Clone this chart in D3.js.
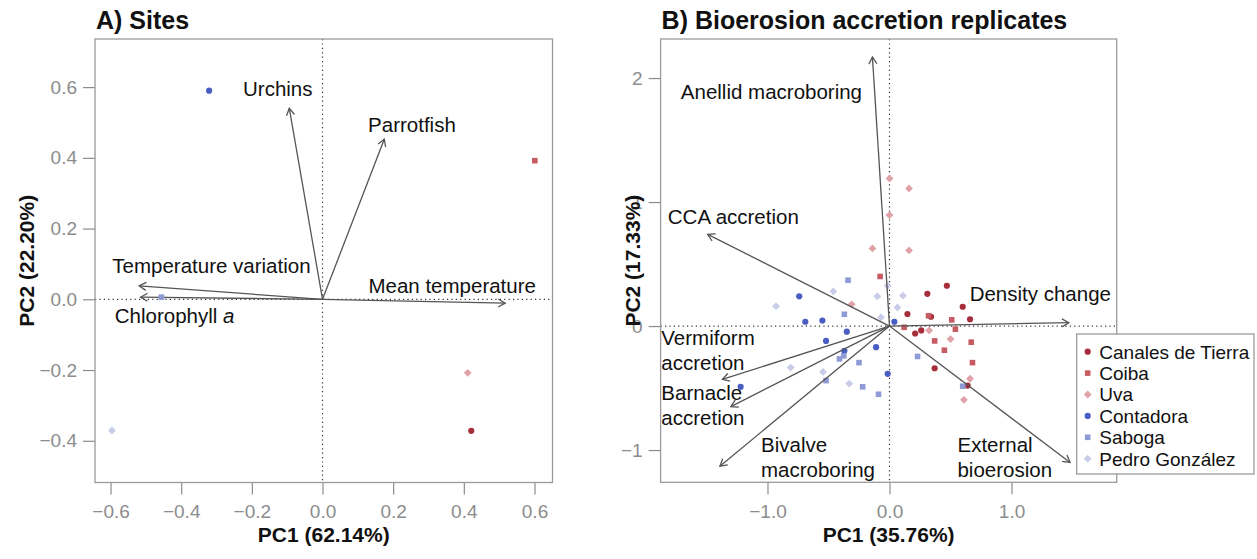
<!DOCTYPE html>
<html><head><meta charset="utf-8">
<script src="https://cdn.jsdelivr.net/npm/d3@7"></script>
<style>
body{margin:0;background:#fff;}
text{font-family:"Liberation Sans",Arial,Helvetica,sans-serif;}
</style>
</head><body>
<svg id="chart" width="1257" height="559"></svg>
<script>
// ---------- DATA ----------
const sites = ["Canales de Tierra","Coiba","Uva","Contadora","Saboga","Pedro González"];
const siteColors = ["#a62d3a","#c75b62","#e0a2a7","#4a5dc2","#8e9ad6","#c8cce8"];
const siteShapes = ["circle","square","diamond","circle","square","diamond"];

// Panel A: site scores
const sitePC1 = [0.421, 0.601, 0.411, -0.321, -0.456, -0.596];
const sitePC2 = [-0.372, 0.392, -0.208, 0.590, 0.006, -0.371];

// Panel A: environmental loadings
const envVars = ["Urchins","Parrotfish","Temperature variation","Chlorophyll a","Mean temperature"];
const envPC1 = [-0.094, 0.175, -0.519, -0.515, 0.517];
const envPC2 = [0.540, 0.453, 0.038, 0.006, -0.011];
const envLabelPC1 = [-0.225, 0.129, -0.595, -0.588, 0.130];
const envLabelPC2 = [0.594, 0.493, 0.093, -0.046, 0.039];

// Panel B: replicate scores per site
const canalesPC1 = [0.47, 0.31, 0.60, 0.147, 0.34, 0.66, 0.26, 0.21, 0.37, 0.64];
const canalesPC2 = [0.325, 0.26, 0.156, 0.097, 0.075, 0.055, -0.035, -0.06, -0.34, -0.48];
const coibaPC1 = [-0.077, 0.32, 0.51, 0.12, 0.54, 0.37, 0.67, 0.45, 0.68];
const coibaPC2 = [0.40, 0.083, 0.05, -0.01, -0.025, -0.12, -0.13, -0.195, -0.295];
const uvaPC1 = [0.0, 0.16, 0.0, -0.14, 0.16, -0.31, 0.325, 0.50, 0.66, 0.61];
const uvaPC2 = [1.19, 1.11, 0.895, 0.626, 0.61, 0.175, -0.035, -0.105, -0.425, -0.595];
const contadoraPC1 = [-0.74, -0.69, -0.55, -0.35, -0.52, -0.37, -0.11, 0.04, -0.015, -1.22];
const contadoraPC2 = [0.24, 0.035, 0.045, -0.045, -0.12, -0.2, -0.17, 0.035, -0.385, -0.49];
const sabogaPC1 = [-0.34, -0.37, -0.41, -0.375, -0.25, -0.52, -0.22, -0.09, 0.23, 0.60];
const sabogaPC2 = [0.37, 0.095, -0.265, -0.24, -0.295, -0.44, -0.49, -0.55, -0.245, -0.485];
const pedroPC1 = [-0.93, -0.46, -0.10, 0.11, 0.065, -0.07, -0.015, -0.81, -0.545, -0.33];
const pedroPC2 = [0.16, 0.28, 0.24, 0.245, 0.15, 0.07, 0.325, -0.335, -0.37, -0.465];

// Panel B: bioerosion/accretion loadings
const bioVars = [["Anellid macroboring"],["CCA accretion"],["Density change"],["Vermiform","accretion"],["Barnacle","accretion"],["Bivalve","macroboring"],["External","bioerosion"]];
const bioPC1 = [-0.14, -1.49, 1.47, -1.37, -1.30, -1.39, 1.48];
const bioPC2 = [2.17, 0.74, 0.027, -0.43, -0.65, -1.13, -1.10];
const bioLabelPC1 = [-1.71, -1.817, 0.657, -1.87, -1.87, -1.053, 0.557];
const bioLabelPC2 = [1.887, 0.879, 0.258, -0.094, -0.538, -0.96, -0.96];

// Tick labels
const aXTicks = [-0.6,-0.4,-0.2,0.0,0.2,0.4,0.6];
const aYTicks = [-0.4,-0.2,0.0,0.2,0.4,0.6];
const bXTicks = [-1.0,0.0,1.0];
const bYTicks = [-1,0,1,2];

// ---------- DRAW ----------
const svg = d3.select("#chart");
const boxColor = "#9a9a9a", tickColor = "#8c8c8c", arrowColor = "#555";

function symbolPath(shape){
  if(shape==="circle") return d3.symbol(d3.symbolCircle, 30)();
  if(shape==="square") return "M-2.8,-2.8H2.8V2.8H-2.8Z";
  return "M0,-3.9L3.9,0L0,3.9L-3.9,0Z";
}

function panel(cfg){
  const g = svg.append("g");
  const x = d3.scaleLinear().domain(cfg.xd).range([cfg.left, cfg.right]);
  const y = d3.scaleLinear().domain(cfg.yd).range([cfg.bottom, cfg.top]);
  // dotted zero lines
  g.append("line").attr("x1",x(0)).attr("x2",x(0)).attr("y1",cfg.top).attr("y2",cfg.bottom)
    .attr("stroke","#333").attr("stroke-width",1.2).attr("stroke-dasharray","1.2,3.2");
  g.append("line").attr("y1",y(0)).attr("y2",y(0)).attr("x1",cfg.left).attr("x2",cfg.right)
    .attr("stroke","#333").attr("stroke-width",1.2).attr("stroke-dasharray","1.2,3.2");
  // axes
  const xa = g.append("g").attr("transform",`translate(0,${cfg.bottom})`)
    .call(d3.axisBottom(x).tickValues(cfg.xt).tickSize(12).tickPadding(10).tickFormat(cfg.xf));
  const ya = g.append("g").attr("transform",`translate(${cfg.left},0)`)
    .call(d3.axisLeft(y).tickValues(cfg.yt).tickSize(12).tickPadding(6).tickFormat(cfg.yf));
  [xa,ya].forEach(a=>{
    a.select(".domain").remove();
    a.selectAll("line").attr("stroke",tickColor).attr("stroke-width",1.2);
    a.selectAll("text").attr("fill",tickColor).style("font-size","19px")
      .style("font-family",'"Liberation Sans",Arial,sans-serif');
  });
  // box
  g.append("rect").attr("x",cfg.left).attr("y",cfg.top).attr("width",cfg.right-cfg.left)
    .attr("height",cfg.bottom-cfg.top).attr("fill","none").attr("stroke",boxColor).attr("stroke-width",1.3);
  // title
  g.append("text").attr("x",cfg.left+1).attr("y",28.5).text(cfg.title)
    .style("font-size","25px").style("font-weight","bold").attr("fill","#111");
  g.append("text").attr("x",(cfg.left+cfg.right)/2).attr("y",542).attr("text-anchor","middle")
    .text(cfg.xlab).style("font-size","21px").style("font-weight","bold").attr("fill","#111");
  g.append("text").attr("transform",`translate(${cfg.ylabX},${(cfg.top+cfg.bottom)/2}) rotate(-90)`)
    .attr("text-anchor","middle").text(cfg.ylab).style("font-size","21px").style("font-weight","bold").attr("fill","#111");
  return {g,x,y};
}

function drawPoints(p, xs, ys, si){
  p.g.selectAll(null).data(xs.map((v,i)=>[v,ys[i]])).enter().append("path")
    .attr("d",symbolPath(siteShapes[si]))
    .attr("transform",d=>`translate(${p.x(d[0])},${p.y(d[1])})`)
    .attr("fill",siteColors[si]);
}

function drawArrows(p, xs, ys){
  const x0=p.x(0), y0=p.y(0);
  xs.forEach((v,i)=>{
    const x1=p.x(v), y1=p.y(ys[i]);
    const ang=Math.atan2(y1-y0,x1-x0), L=8, a=Math.PI/6;
    p.g.append("line").attr("x1",x0).attr("y1",y0).attr("x2",x1).attr("y2",y1)
      .attr("stroke",arrowColor).attr("stroke-width",1.3);
    p.g.append("path").attr("d",`M${x1-L*Math.cos(ang-a)},${y1-L*Math.sin(ang-a)}L${x1},${y1}L${x1-L*Math.cos(ang+a)},${y1-L*Math.sin(ang+a)}`)
      .attr("fill","none").attr("stroke",arrowColor).attr("stroke-width",1.3);
  });
}

// Panel A
const A = panel({left:95,right:552.5,top:39,bottom:482.5,xd:[-0.644,0.651],yd:[-0.518,0.736],
  xt:aXTicks,yt:aYTicks,xf:d3.format(".1f"),yf:d3.format(".1f"),
  title:"A) Sites",xlab:"PC1 (62.14%)",ylab:"PC2 (22.20%)",ylabX:34});
drawArrows(A, envPC1, envPC2);
envVars.forEach((t,i)=>{
  const tx = A.g.append("text").attr("x",A.x(envLabelPC1[i])).attr("y",A.y(envLabelPC2[i])+7)
    .style("font-size","20.5px").attr("fill","#111");
  if(t==="Chlorophyll a"){ tx.append("tspan").text("Chlorophyll "); tx.append("tspan").style("font-style","italic").text("a"); }
  else tx.text(t);
});
sitePC1.forEach((v,i)=>drawPoints(A,[v],[sitePC2[i]],i));

// Panel B
const B = panel({left:660.6,right:1116.7,top:39,bottom:482.3,xd:[-1.876,1.862],yd:[-1.26,2.315],
  xt:bXTicks,yt:bYTicks,xf:d3.format(".1f"),yf:d3.format("d"),
  title:"B) Bioerosion accretion replicates",xlab:"PC1 (35.76%)",ylab:"PC2 (17.33%)",ylabX:640});
const reps = [[canalesPC1,canalesPC2],[coibaPC1,coibaPC2],[uvaPC1,uvaPC2],[contadoraPC1,contadoraPC2],[sabogaPC1,sabogaPC2],[pedroPC1,pedroPC2]];
reps.forEach((r,i)=>drawPoints(B,r[0],r[1],i));
drawArrows(B, bioPC1, bioPC2);
bioVars.forEach((lines,i)=>{
  lines.forEach((t,j)=>{
    B.g.append("text").attr("x",B.x(bioLabelPC1[i])).attr("y",B.y(bioLabelPC2[i])+7+j*24.8)
      .style("font-size","20.5px").attr("fill","#111").text(t);
  });
});

// Legend
const lg = svg.append("g");
lg.append("rect").attr("x",1076.7).attr("y",334).attr("width",177.3).attr("height",140)
  .attr("fill","#fff").attr("stroke",boxColor).attr("stroke-width",1.3);
sites.forEach((s,i)=>{
  const cy = 351.7 + i*21.4;
  lg.append("path").attr("d",symbolPath(siteShapes[i])).attr("transform",`translate(1087.7,${cy})`).attr("fill",siteColors[i]);
  lg.append("text").attr("x",1099.3).attr("y",cy+6.8).text(s).style("font-size","19px").attr("fill","#111");
});
</script>
</body></html>
